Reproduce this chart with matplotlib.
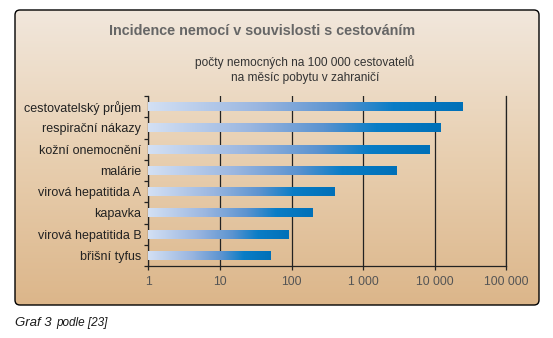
import numpy as np
import matplotlib
matplotlib.use('Agg')
import matplotlib.pyplot as plt
from matplotlib import font_manager
from matplotlib.colors import LinearSegmentedColormap
from matplotlib.patches import FancyBboxPatch
from matplotlib.image import AxesImage
from matplotlib.transforms import TransformedBbox, BboxTransformTo

# data (cases per 100 000 travellers per month abroad)
categories = ['cestovatelský průjem', 'respirační nákazy', 'kožní onemocnění', 'malárie',
              'virová hepatitida A', 'kapavka', 'virová hepatitida B', 'břišní tyfus']
incidence = [25000, 12000, 8500, 3000, 400, 200, 90, 50]
tick_values = [1, 10, 100, 1000, 10000, 100000]
tick_labels = ['1', '10', '100', '1 000', '10 000', '100 000']

title = 'Incidence nemocí v souvislosti s cestováním'
subtitle = 'počty nemocných na 100 000 cestovatelů\nna měsíc pobytu v zahraničí'

plt.rcParams['font.family'] = ['Liberation Sans', 'DejaVu Sans']
names = {f.name for f in font_manager.fontManager.ttflist}
narrow = 'Liberation Sans Narrow' in names
title_font = ['Liberation Sans Narrow', 'DejaVu Sans'] if narrow else ['Liberation Sans', 'DejaVu Sans']

W, H = 553, 338
fig = plt.figure(figsize=(W / 100, H / 100), dpi=100)

# background panel with vertical beige gradient
bg = fig.add_axes([0, 0, 1, 1])
bg.set_xlim(0, W)
bg.set_ylim(0, H)
bg.axis('off')
panel = FancyBboxPatch((15, 33), 524, 295, boxstyle='round,pad=0,rounding_size=5',
                       facecolor='none', edgecolor='black', lw=1.0, zorder=3)
bg.add_patch(panel)
panel_cmap = LinearSegmentedColormap.from_list('panel', ['#dcb68a', '#e8cfb0', '#f1e7dc'])
panel_img = bg.imshow(np.linspace(0, 1, 256).reshape(-1, 1), cmap=panel_cmap, origin='lower',
                      extent=(15, 539, 33, 328), aspect='auto', zorder=1)
panel_img.set_clip_path(panel)

fig.text(262 / W, 1 - 31 / H, title, ha='center', va='center', color='#666666',
         fontsize=12.5 if narrow else 10.4, fontweight='bold', family=title_font)
fig.text(305 / W, 1 - 69.5 / H, subtitle, ha='center', va='center', color='#333333',
         fontsize=8.6, linespacing=1.35)

ax = fig.add_axes([148.3 / W, 72 / H, 358 / W, 170 / H])
ax.set_facecolor('none')
ax.set_xscale('log')

bar_cmap = LinearSegmentedColormap.from_list(
    'bar', [(0, '#d3e0f4'), (0.35, '#9ab6e0'), (0.6, '#5b93d0'), (0.78, '#0a7dc6'), (1, '#0070b8')])
ypos = np.arange(len(categories))
bars = ax.barh(ypos, incidence, left=1, height=0.42, color='#0070b8', zorder=3)
grad = np.linspace(0, 1, 256).reshape(1, -1)
for b in bars:
    box = TransformedBbox(b.get_bbox(), ax.transData)
    im = AxesImage(ax, cmap=bar_cmap, interpolation='bilinear', origin='lower',
                   extent=(0, 1, 0, 1), transform=BboxTransformTo(box), zorder=4)
    im.set_data(grad)
    ax.add_image(im)

ax.set_xlim(1, 100000)
ax.set_ylim(len(categories) - 0.5, -0.5)

ax.set_xticks(tick_values)
ax.set_xticklabels(tick_labels)
ax.xaxis.set_minor_locator(matplotlib.ticker.NullLocator())
ax.tick_params(axis='x', length=3, width=0.9, color='#222222', pad=4,
               labelsize=8.8, labelcolor='#555555')
ax.set_yticks(ypos)
ax.set_yticklabels(categories)
ax.set_yticks(np.arange(len(categories) + 1) - 0.5, minor=True)
ax.tick_params(axis='y', which='major', length=0, pad=5, labelsize=9, labelcolor='#222222')
ax.tick_params(axis='y', which='minor', length=3, width=0.9, color='#222222')

ax.grid(axis='x', which='major', color='#222222', lw=0.9)
ax.set_axisbelow(True)
for side in ['left', 'bottom', 'right']:
    ax.spines[side].set_color('#222222')
    ax.spines[side].set_linewidth(0.9)
ax.spines['top'].set_visible(False)

fig.text(15 / W, 1 - 326 / H, 'Graf 3', ha='left', va='baseline', color='#1a1a1a',
         fontsize=9.5, style='italic')
fig.text(56 / W, 1 - 326 / H, 'podle [23]', ha='left', va='baseline', color='#1a1a1a',
         fontsize=8.5, style='italic')

fig.savefig('out.png', dpi=100)
